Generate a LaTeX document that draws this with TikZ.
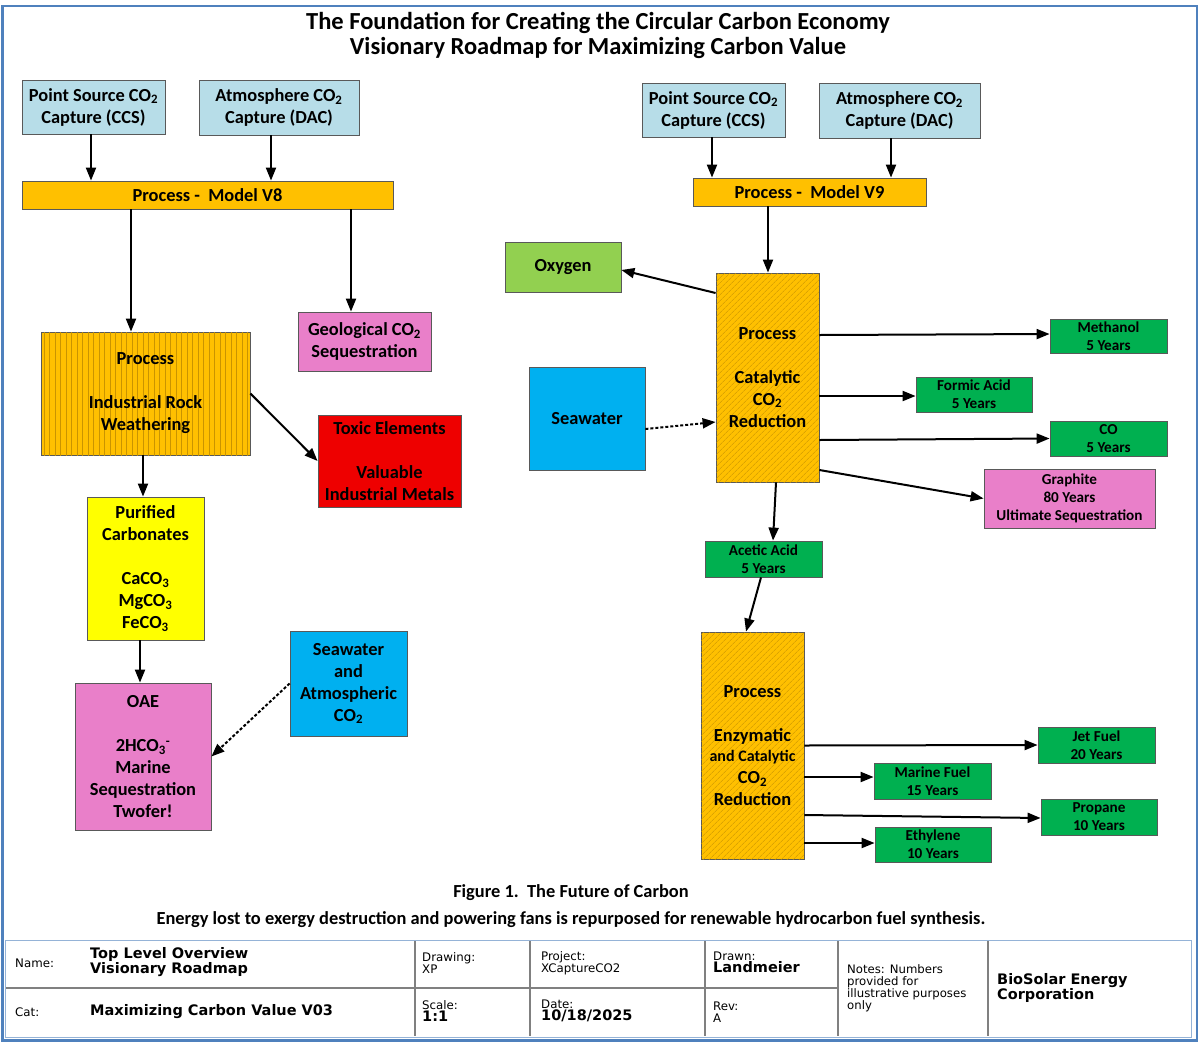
\documentclass[tikz,border=0pt]{standalone}
\usepackage{fontspec}
\setmainfont{Carlito}
\newfontfamily\tbfont{DejaVu Sans}
\usetikzlibrary{arrows.meta, patterns.meta}

\definecolor{capblue}{HTML}{B7DDE8}
\definecolor{procgold}{HTML}{FFC000}
\definecolor{hatchgold}{HTML}{C99400}
\definecolor{seqpink}{HTML}{E97FC9}
\definecolor{metalred}{HTML}{EE0000}
\definecolor{carbyellow}{HTML}{FFFF00}
\definecolor{seablue}{HTML}{00B0F0}
\definecolor{oxgreen}{HTML}{92D050}
\definecolor{prodgreen}{HTML}{00B050}
\definecolor{frameblue}{HTML}{4F81BD}
\definecolor{tableblue}{HTML}{95B3D7}
\definecolor{boxline}{HTML}{595959}

\newcommand\boxtxt{\fontsize{18.4}{22}\selectfont\bfseries}
\newcommand\prodtxt{\fontsize{15.2}{18}\selectfont\bfseries}
\newcommand\midtxt{\fontsize{16}{19.5}\selectfont\bfseries}

\tikzset{
  cbox/.style 2 args={draw=boxline, line width=0.8pt, minimum width=#1pt,
    minimum height=#2pt, inner sep=0pt, align=center, font=\boxtxt},
  capture/.style={fill=capblue},
  procbar/.style={fill=procgold},
  hatchv/.style={fill=procgold, postaction={pattern={Lines[angle=90,distance=5.5pt,line width=0.6pt]}, pattern color=hatchgold}},
  hatchd/.style={fill=procgold, postaction={pattern={Lines[angle=45,distance=4pt,line width=0.5pt]}, pattern color=hatchgold}},
  prod/.style={fill=prodgreen, font=\prodtxt},
  arr/.style={line width=2pt, -{Triangle[length=13pt,width=10pt]}},
  dotarr/.style={arr, dash pattern=on 3pt off 2pt},
  tblabel/.style={anchor=west, align=left, inner sep=0pt, font=\tbfont\fontsize{11.8}{12}\selectfont},
  tbvalue/.style={anchor=west, align=left, inner sep=0pt, font=\tbfont\bfseries\fontsize{14.5}{15}\selectfont}
}

\begin{document}
\begin{tikzpicture}[x=1pt, y=-1pt]
\useasboundingbox (0,0) rectangle (1200,1042);

% frame
\draw[frameblue, line width=2.5pt] (2.5,6) rectangle (1197,1040.5);

% title
\node[font=\fontsize{24.5}{25}\selectfont\bfseries, align=center] (title) at (598,35)
  {The Foundation for Creating the Circular Carbon Economy\\Visionary Roadmap for Maximizing Carbon Value};

% Model V8 side
\node[cbox={143}{54}, capture] (ps1) at (93.5,107) {Point Source CO\textsubscript{2}\\Capture (CCS)};
\node[cbox={160}{55}, capture] (at1) at (279,107.5) {Atmosphere CO\textsubscript{2}\\Capture (DAC)};
\node[cbox={371}{28}, procbar] (v8) at (207.5,195) {Process -\ \ Model V8};
\node[cbox={209}{123}, hatchv] (irw) at (145.5,393.5) {Process\\[22pt]Industrial Rock\\Weathering};
\node[cbox={133}{59}, fill=seqpink] (geo) at (364.5,341.5) {Geological CO\textsubscript{2}\\Sequestration};
\node[cbox={143}{92}, fill=metalred] (toxic) at (389.5,461) {Toxic Elements\\[22pt]Valuable\\Industrial Metals};
\node[cbox={117}{143}, fill=carbyellow] (carb) at (145.5,568.5)
  {Purified\\Carbonates\\[22pt]CaCO\textsubscript{3}\\MgCO\textsubscript{3}\\FeCO\textsubscript{3}};
\node[cbox={136}{147}, fill=seqpink] (oae) at (143,756.5)
  {OAE\\[22pt]2HCO\textsubscript{3}\textsuperscript{-}\\Marine\\Sequestration\\Twofer!};
\node[cbox={117}{105}, fill=seablue] (sw1) at (348.5,683.5) {Seawater\\and\\Atmospheric\\CO\textsubscript{2}};

\draw[arr] ([xshift=-2.5pt]ps1.south) -- ([xshift=-116.5pt]v8.north);
\draw[arr] ([xshift=-8pt]at1.south) -- ([xshift=63.5pt]v8.north);
\draw[arr] ([xshift=-76.5pt]v8.south) -- ([xshift=-14.5pt]irw.north);
\draw[arr] ([xshift=143.5pt]v8.south) -- ([xshift=-13.5pt]geo.north);
\draw[arr] (irw.east) -- (toxic.west);
\draw[arr] ([xshift=-2.5pt]irw.south) -- ([xshift=-2.5pt]carb.north);
\draw[arr] ([xshift=-5.5pt]carb.south) -- ([xshift=-3pt]oae.north);
\draw[dotarr] (sw1.west) -- (oae.east);

% Model V9 side
\node[cbox={143}{54}, capture] (ps2) at (713.5,110) {Point Source CO\textsubscript{2}\\Capture (CCS)};
\node[cbox={161}{55}, capture] (at2) at (899.5,110.5) {Atmosphere CO\textsubscript{2}\\Capture (DAC)};
\node[cbox={233}{28}, procbar] (v9) at (809.5,192) {Process -\ \ Model V9};
\node[cbox={116}{50}, fill=oxgreen] (oxy) at (563,267) {Oxygen};
\node[cbox={103}{209}, hatchd] (cat) at (767.5,377.5) {Process\\[22pt]Catalytic\\CO\textsubscript{2}\\Reduction};
\node[cbox={116}{103}, fill=seablue] (sw2) at (587,418.5) {Seawater};
\node[cbox={117}{34}, prod] (meoh) at (1108.5,336) {Methanol\\5 Years};
\node[cbox={116}{35}, prod] (formic) at (974,394.5) {Formic Acid\\5 Years};
\node[cbox={117}{35}, prod] (co) at (1108.5,438.5) {CO\\5 Years};
\node[cbox={171}{59}, fill=seqpink, font=\prodtxt] (graph) at (1069.5,498.5) {Graphite\\80 Years\\Ultimate Sequestration};
\node[cbox={117}{36}, prod] (acetic) at (763.5,559) {Acetic Acid\\5 Years};
\node[cbox={103}{227}, hatchd] (enz) at (752.5,745.5)
  {Process\\[22pt]Enzymatic\\[-2pt]\midtxt and Catalytic\\CO\textsubscript{2}\\Reduction};
\node[cbox={117}{36}, prod] (jet) at (1096.5,745) {Jet Fuel\\20 Years};
\node[cbox={117}{36}, prod] (marine) at (932.5,781) {Marine Fuel\\15 Years};
\node[cbox={116}{36}, prod] (propane) at (1099,817) {Propane\\10 Years};
\node[cbox={116}{35}, prod] (ethyl) at (933,844.5) {Ethylene\\10 Years};

\draw[arr] ([xshift=-1.5pt]ps2.south) -- ([xshift=-97.5pt]v9.north);
\draw[arr] ([xshift=-8.5pt]at2.south) -- ([xshift=81.5pt]v9.north);
\draw[arr] ([xshift=-41.5pt]v9.south) -- ([xshift=0.5pt]cat.north);
\draw[arr] ([yshift=84.5pt]cat.west) -- ([yshift=-3pt]oxy.east);
\draw[dotarr] ([yshift=-10.5pt]sw2.east) -- ([yshift=-44.5pt]cat.west);
\draw[arr] ([yshift=42.5pt]cat.east) -- ([yshift=2pt]meoh.west);
\draw[arr] ([yshift=-18.5pt]cat.east) -- ([yshift=-1.5pt]formic.west);
\draw[arr] ([yshift=-62.5pt]cat.east) -- (co.west);
\draw[arr] ([yshift=-92.5pt]cat.east) -- (graph.west);
\draw[arr] ([xshift=8.5pt]cat.south) -- ([xshift=9.5pt]acetic.north);
\draw[arr] ([xshift=-2.5pt]acetic.south) -- ([xshift=-6.5pt]enz.north);
\draw[arr] (enz.east) -- (jet.west);
\draw[arr] ([yshift=-31.5pt]enz.east) -- ([yshift=4pt]marine.west);
\draw[arr] ([yshift=-69.5pt]enz.east) -- ([yshift=-1pt]propane.west);
\draw[arr] ([yshift=-97.5pt]enz.east) -- ([yshift=1.5pt]ethyl.west);

% caption
\node[font=\boxtxt] (fig) at (571,893) {Figure 1.\ \ The Future of Carbon};
\node[font=\boxtxt] (note) at (571,920)
  {Energy lost to exergy destruction and powering fans is repurposed for renewable hydrocarbon fuel synthesis.};

% title block
\draw[tableblue, line width=1pt] (5,940) rectangle (1191,1037);
\draw[gray, line width=1.5pt] (6,988) -- (838,988);
\foreach \xc in {415,530,705,838,988}
  \draw[gray, line width=1.5pt] (\xc,941) -- (\xc,1036);
\node[tblabel] (lname) at (15,963) {Name:};
\node[tbvalue] (vname) at (90,962) {Top Level Overview\\Visionary Roadmap};
\node[tblabel] (lcat) at (15,1012) {Cat:};
\node[tbvalue] (vcat) at (90,1012) {Maximizing Carbon Value V03};
\node[tblabel] (ldraw) at (422,963) {Drawing:\\XP};
\node[tblabel] (lscale) at (422,1011) {Scale:\\{\bfseries\fontsize{14.5}{13}\selectfont 1:1}};
\node[tblabel] (lproj) at (541,963) {Project:\\XCaptureCO2};
\node[tblabel] (ldate) at (541,1011) {Date:\\{\bfseries\fontsize{14.5}{13}\selectfont 10/18/2025}};
\node[tblabel] (ldrawn) at (713,962.5) {Drawn:\\{\bfseries\fontsize{14.5}{13}\selectfont Landmeier}};
\node[tblabel] (lrev) at (713,1012) {Rev:\\A};
\node[tblabel, font=\tbfont\fontsize{11.7}{12}\selectfont] (lnotes) at (847,988)
  {Notes: Numbers\\provided for\\illustrative purposes\\only};
\node[tbvalue] (firm) at (997,987.5) {BioSolar Energy\\Corporation};
\end{tikzpicture}
\end{document}
